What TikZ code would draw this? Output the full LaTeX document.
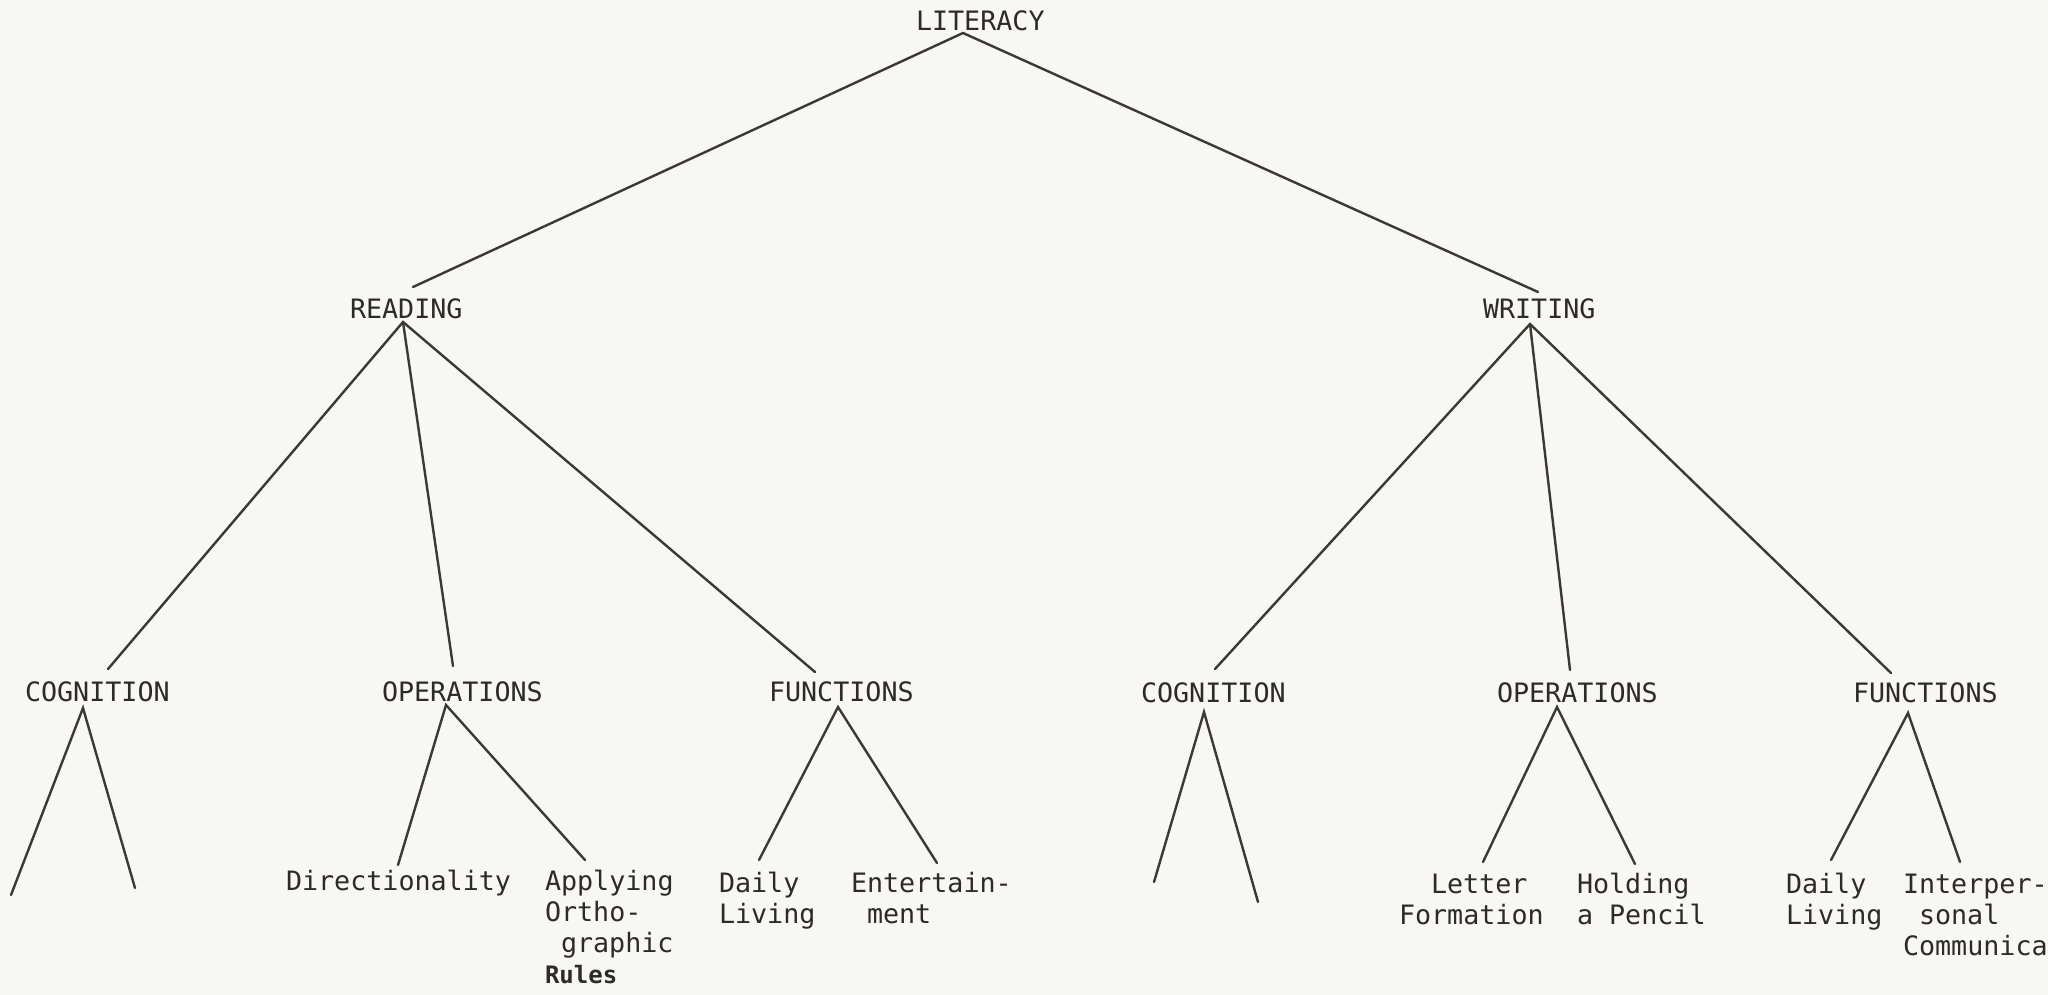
\documentclass[tikz,border=0pt]{standalone}
\usepackage{fontspec}
\setmonofont{DejaVu Sans Mono}
\definecolor{paper}{RGB}{247,247,243}
\definecolor{ink}{RGB}{45,42,40}
\definecolor{pen}{RGB}{62,56,50}
\tikzset{
  lbl/.style={anchor=base west, inner sep=0pt, outer sep=0pt, text=ink,
    font=\ttfamily\fontsize{26.7}{31}\selectfont},
  hand/.style={lbl, font=\ttfamily\bfseries\fontsize{24}{31}\selectfont},
  branch/.style={draw=pen, line width=2.4pt, line cap=round}
}
\begin{document}
\begin{tikzpicture}[x=1pt,y=-1pt]
\fill[paper] (0,0) rectangle (2048,995);
\useasboundingbox (0,0) rectangle (2048,995);

% level 0
\node[lbl] (lit) at (916,31) {LITERACY};
% level 1
\node[lbl] (rd) at (350,318) {READING};
\node[lbl] (wr) at (1483,318) {WRITING};
% level 2
\node[lbl] (cogL) at (25,701) {COGNITION};
\node[lbl] (opsL) at (382,701) {OPERATIONS};
\node[lbl] (funL) at (769,701) {FUNCTIONS};
\node[lbl] (cogR) at (1141,702) {COGNITION};
\node[lbl] (opsR) at (1497,702) {OPERATIONS};
\node[lbl] (funR) at (1853,702) {FUNCTIONS};
% leaves
\node[lbl] (dir) at (286,890) {Directionality};
\node[lbl] (app1) at (545,890) {Applying};
\node[lbl] (app2) at (545,921) {Ortho-};
\node[lbl] (app3) at (561,952) {graphic};
\node[hand] (app4) at (545,983) {Rules};
\node[lbl] (dlL1) at (719,892) {Daily};
\node[lbl] (dlL2) at (719,923) {Living};
\node[lbl] (ent1) at (851,892) {Entertain-};
\node[lbl] (ent2) at (867,923) {ment};
\node[lbl] (let1) at (1431,893) {Letter};
\node[lbl] (let2) at (1399,924) {Formation};
\node[lbl] (hol1) at (1577,893) {Holding};
\node[lbl] (hol2) at (1577,924) {a Pencil};
\node[lbl] (dlR1) at (1786,893) {Daily};
\node[lbl] (dlR2) at (1786,924) {Living};
\node[lbl] (int1) at (1903,893) {Interper-};
\node[lbl] (int2) at (1919,924) {sonal};
\node[lbl] (int3) at (1903,955) {Communica};

% apexes and ends
\coordinate (litA) at (963,33);
\coordinate (rdT) at (413,287);
\coordinate (wrT) at (1538,292);
\coordinate (rdA) at (403,322);
\coordinate (wrA) at (1530,324);
\coordinate (cogLT) at (108,669);
\coordinate (opsLT) at (453,666);
\coordinate (funLT) at (815,672);
\coordinate (cogRT) at (1215,669);
\coordinate (opsRT) at (1570,670);
\coordinate (funRT) at (1891,673);
\coordinate (cogLA) at (83,708);
\coordinate (opsLA) at (446,705);
\coordinate (funLA) at (838,707);
\coordinate (cogRA) at (1204,712);
\coordinate (opsRA) at (1557,707);
\coordinate (funRA) at (1908,713);
\coordinate (cogL1) at (11,895);
\coordinate (cogL2) at (135,888);
\coordinate (opsL1) at (398,865);
\coordinate (opsL2) at (585,860);
\coordinate (funL1) at (759,860);
\coordinate (funL2) at (937,863);
\coordinate (cogR1) at (1154,882);
\coordinate (cogR2) at (1258,902);
\coordinate (opsR1) at (1483,862);
\coordinate (opsR2) at (1635,864);
\coordinate (funR1) at (1831,860);
\coordinate (funR2) at (1960,862);

\draw[branch] (rdT) -- (litA) -- (wrT);
\draw[branch] (cogLT) -- (rdA) -- (funLT);
\draw[branch] (rdA) -- (opsLT);
\draw[branch] (cogRT) -- (wrA) -- (funRT);
\draw[branch] (wrA) -- (opsRT);
\draw[branch] (cogL1) -- (cogLA) -- (cogL2);
\draw[branch] (opsL1) -- (opsLA) -- (opsL2);
\draw[branch] (funL1) -- (funLA) -- (funL2);
\draw[branch] (cogR1) -- (cogRA) -- (cogR2);
\draw[branch] (opsR1) -- (opsRA) -- (opsR2);
\draw[branch] (funR1) -- (funRA) -- (funR2);
\end{tikzpicture}
\end{document}
